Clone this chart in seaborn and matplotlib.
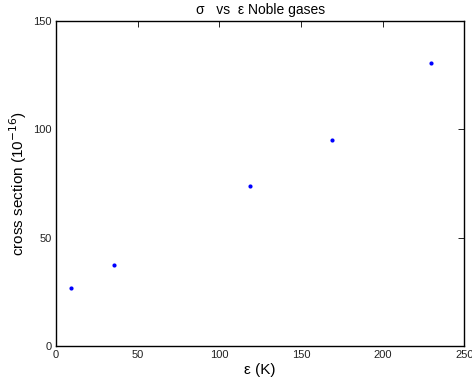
import matplotlib
matplotlib.use("Agg")
import matplotlib.pyplot as plt
import seaborn as sns
import pandas as pd

epsilon = [9.5, 35.3, 119.0, 168.8, 229.9]
sigma = [26.7, 37.2, 73.8, 95.2, 130.4]
xticks = [0, 50, 100, 150, 200, 250]
yticks = [0, 50, 100, 150]

sns.set_theme(style="white")
plt.rcParams['font.family'] = ['Liberation Sans', 'DejaVu Sans']

df = pd.DataFrame({"eps": epsilon, "sigma": sigma})

fig = plt.figure(figsize=(4.72, 3.88), dpi=100)
ax = fig.add_axes([0.1186, 0.108, 0.865, 0.838])
sns.scatterplot(data=df, x="eps", y="sigma", ax=ax, color="#0000ff",
                s=9, marker="o", edgecolor="#0000ff", linewidth=0)
ax.set_xlim(0, 250)
ax.set_ylim(0, 150)
ax.set_xticks(xticks)
ax.set_yticks(yticks)
ax.tick_params(direction="in", length=4, width=0.6, labelsize=8, top=True, right=True,
               colors="black", labelcolor="#222222", pad=3)
for s in ax.spines.values():
    s.set_color("black")
    s.set_linewidth(1.0)
ax.set_xlabel("ε (K)", fontsize=11, labelpad=2, color="black")
ax.set_ylabel("cross section (10$^{-16}$)", fontsize=11, labelpad=3, color="black")
ax.set_title("σ   vs  ε Noble gases", fontsize=10, pad=5, color="black")
fig.savefig("out.png", dpi=100)
